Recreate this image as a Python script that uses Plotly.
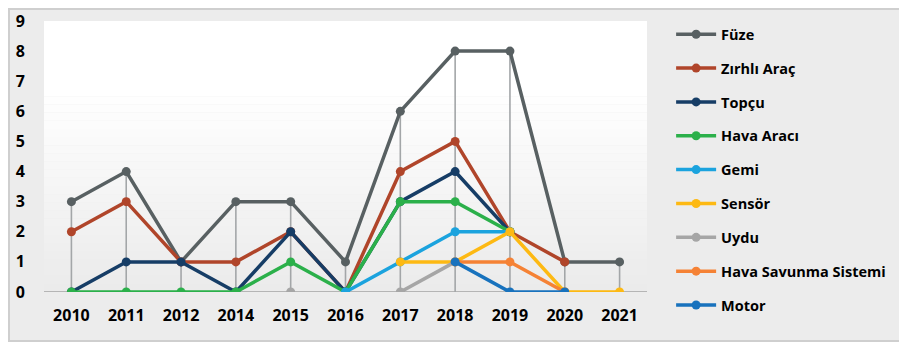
import plotly.graph_objects as go

years = ["2010", "2011", "2012", "2014", "2015", "2016", "2017", "2018", "2019", "2020", "2021"]

fuze = [3, 4, 1, 3, 3, 1, 6, 8, 8, 1, 1]
zirhli_arac = [2, 3, 1, 1, 2, 0, 4, 5, 2, 1, None]
topcu = [0, 1, 1, 0, 2, 0, 3, 4, 2, None, None]
hava_araci = [0, 0, 0, 0, 1, 0, 3, 3, 2, None, None]
gemi = [None, None, None, None, None, 0, 1, 2, 2, None, None]
sensor = [None, None, None, None, None, None, 1, 1, 2, 0, 0]
uydu = [None, None, None, None, 0, None, 0, 1, None, None, None]
hava_savunma = [None, None, None, None, None, None, None, 1, 1, 0, None]
motor = [None, None, None, None, None, None, None, 1, 0, 0, None]

names = ["Füze", "Zırhlı Araç", "Topçu", "Hava Aracı", "Gemi", "Sensör", "Uydu",
         "Hava Savunma Sistemi", "Motor"]
series = [fuze, zirhli_arac, topcu, hava_araci, gemi, sensor, uydu, hava_savunma, motor]
colors = ["#586062", "#b0452a", "#163d66", "#2bb04a", "#1ba3de", "#fdb913", "#a6a6a6",
          "#f58235", "#1872bd"]

bold = dict(family="Open Sans", size=16, color="black", weight="bold")

fig = go.Figure()

# drop lines from the highest point of each year down to the axis
drop_x, drop_y = [], []
for i, yr in enumerate(years):
    top = max(s[i] for s in series if s[i] is not None)
    drop_x += [yr, yr, None]
    drop_y += [0, top, None]
fig.add_trace(go.Scatter(x=drop_x, y=drop_y, mode="lines", showlegend=False,
                         hoverinfo="skip", line=dict(color="#a3a6a8", width=1.6)))

for name, vals, col in zip(names, series, colors):
    fig.add_trace(go.Scatter(
        x=years, y=vals, name=name, legendgroup=name,
        mode="lines+markers",
        line=dict(color=col, width=3.5),
        marker=dict(color=col, size=9),
    ))

# soft gradient in the plot area (white at top, grey towards the axis)
stripes = 24
for k in range(stripes):
    y0 = 6.5 * (1 - k / stripes)
    y1 = 6.5 * (1 - (k + 1) / stripes)
    t = (k + 0.5) / stripes
    g = int(255 - t * 20)
    fig.add_shape(type="rect", xref="paper", yref="y", x0=0, x1=1, y0=y1, y1=y0,
                  fillcolor=f"rgb({g},{g},{g})", line_width=0, layer="below")
fig.add_shape(type="rect", xref="paper", yref="y", x0=0, x1=1, y0=6.5, y1=9,
              fillcolor="white", line_width=0, layer="below")

# outer border (page has an 8px body margin, so the figure is 8px smaller)
W, H = 899, 334
L, R, T, B = 36, 260, 13, 50
pw, ph = W - L - R, H - T - B
fig.add_shape(type="rect", xref="paper", yref="paper",
              x0=-(L - 1) / pw, x1=(W - L - 1) / pw, y0=-(B - 1) / ph, y1=(H - B - 1) / ph,
              line=dict(color="#cfcfcf", width=2), layer="below")

fig.update_layout(
    width=W, height=H,
    margin=dict(l=L, r=R, t=T, b=B, autoexpand=False),
    paper_bgcolor="#ececec",
    plot_bgcolor="rgba(0,0,0,0)",
    font=bold,
    showlegend=True,
    legend=dict(
        x=1.04, xanchor="left", y=1.01, yanchor="top",
        font=dict(family="Open Sans", size=14.5, color="black", weight="bold"),
        bgcolor="rgba(0,0,0,0)",
        tracegroupgap=12,
        itemwidth=40,
        maxheight=340,
    ),
)
fig.update_xaxes(
    type="category", range=[-0.5, 10.5], automargin=False,
    showgrid=False, zeroline=False, showline=False,
    tickfont=bold,
    ticklabelstandoff=12,
)
fig.update_yaxes(
    range=[0, 9], dtick=1, automargin=False,
    showgrid=False, zeroline=False,
    showline=False,
    tickfont=bold,
    ticklabelstandoff=18,
)
fig.add_shape(type="line", xref="paper", yref="y", x0=0, x1=1, y0=0, y1=0,
              line=dict(color="#b5b5b5", width=2), layer="below")

fig.write_html("out.html")
